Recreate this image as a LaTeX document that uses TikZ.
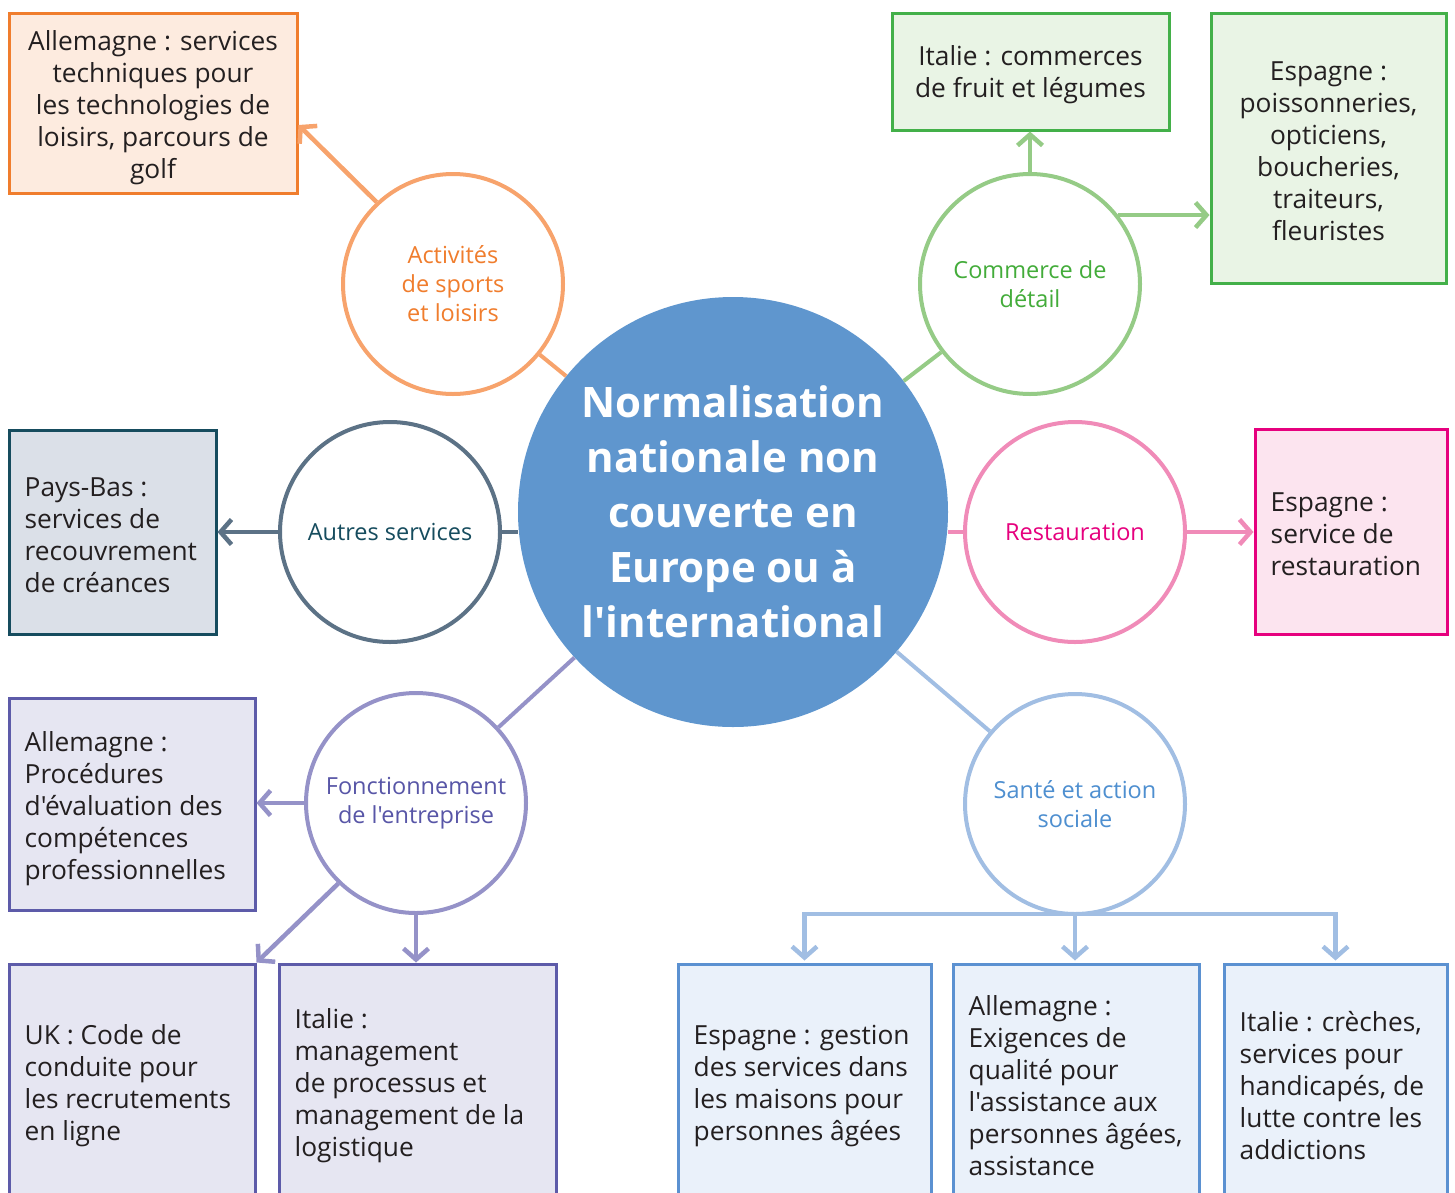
\documentclass[tikz,border=0pt]{standalone}
\usepackage{fontspec}
\setmainfont{Open Sans}[Ligatures=TeXOff]
\usetikzlibrary{arrows.meta}

\definecolor{ink}{HTML}{231F20}
\definecolor{hub}{HTML}{5F96CE}
% orange family
\definecolor{oraC}{HTML}{F7A36C}
\definecolor{oraT}{HTML}{F07D2D}
\definecolor{oraF}{HTML}{FDEBDF}
% green family
\definecolor{grnC}{HTML}{95CB86}
\definecolor{grnT}{HTML}{43AC3A}
\definecolor{grnB}{HTML}{43B049}
\definecolor{grnF}{HTML}{E9F4E5}
% pink family
\definecolor{pnkC}{HTML}{F08BB8}
\definecolor{pnkT}{HTML}{E6007E}
\definecolor{pnkF}{HTML}{FCE4EF}
% slate family
\definecolor{sltC}{HTML}{5C7286}
\definecolor{sltT}{HTML}{164C5E}
\definecolor{sltF}{HTML}{DBE0E8}
% purple family
\definecolor{prpC}{HTML}{9592C8}
\definecolor{prpT}{HTML}{5856A7}
\definecolor{prpB}{HTML}{5D5BA9}
\definecolor{prpF}{HTML}{E6E6F2}
% blue family
\definecolor{bluC}{HTML}{A1BEE3}
\definecolor{bluT}{HTML}{4E8FD0}
\definecolor{bluB}{HTML}{5B91D1}
\definecolor{bluF}{HTML}{EAF1FA}

\tikzset{
  hubnode/.style={circle, fill=hub, minimum size=430pt, inner sep=0pt, text=white,
    align=center, font=\fontsize{42}{55}\selectfont\bfseries},
  theme/.style={circle, draw, fill=white, line width=4pt, minimum size=220pt, inner sep=0pt,
    align=center, font=\fontsize{23.5}{29}\selectfont},
  panel/.style={rectangle, draw, line width=3pt, inner sep=0pt},
  panetext/.style={text=ink, inner sep=0pt, yshift=-3pt, font=\fontsize{26.3}{32}\selectfont},
  link/.style={line width=4pt},
  feed/.style={line width=4.5pt, -{Straight Barb[length=11pt,width=25pt]}},
}

\begin{document}
\begin{tikzpicture}[x=1pt,y=-1pt]
\useasboundingbox (0,0) rectangle (1455,1192);
\clip (0,0) rectangle (1455,1192);

% ---------- panels ----------
\node[panel, draw=oraT, fill=oraF, minimum width=288pt, minimum height=180pt] (pSport) at (153,103) {};
\node[panetext, align=center] (tSport) at ([yshift=-2pt]pSport.center) {Allemagne : services\\techniques pour\\les technologies de\\loisirs, parcours de\\golf};

\node[panel, draw=grnB, fill=grnF, minimum width=277pt, minimum height=117pt] (pFruit) at (1030.5,71.5) {};
\node[panetext, align=center] (tFruit) at (pFruit.center) {Italie : commerces\\de fruit et légumes};

\node[panel, draw=grnB, fill=grnF, minimum width=235pt, minimum height=270pt] (pPoisson) at (1328.5,148) {};
\node[panetext, align=center] (tPoisson) at (pPoisson.center) {Espagne :\\poissonneries,\\opticiens,\\boucheries,\\traiteurs,\\fleuristes};

\node[panel, draw=pnkT, fill=pnkF, minimum width=192pt, minimum height=205pt] (pResto) at (1351,531.5) {};
\node[panetext, align=left, anchor=west] (tResto) at ([xshift=17pt]pResto.west) {Espagne :\\service de\\restauration};

\node[panel, draw=sltT, fill=sltF, minimum width=207pt, minimum height=204pt] (pCreance) at (112.5,532) {};
\node[panetext, align=left, anchor=west] (tCreance) at ([xshift=17pt]pCreance.west) {Pays-Bas :\\services de\\recouvrement\\de créances};

\node[panel, draw=prpB, fill=prpF, minimum width=246pt, minimum height=212pt] (pCompet) at (132,804) {};
\node[panetext, align=left, anchor=west] (tCompet) at ([xshift=17pt,yshift=-2pt]pCompet.west) {Allemagne :\\Procédures\\d'évaluation des\\compétences\\professionnelles};

\node[panel, draw=prpB, fill=prpF, minimum width=246pt, minimum height=238pt] (pRecrut) at (132,1083) {};
\node[panetext, align=left, anchor=west] (tRecrut) at ([xshift=17pt]pRecrut.west) {UK : Code de\\conduite pour\\les recrutements\\en ligne};

\node[panel, draw=prpB, fill=prpF, minimum width=277pt, minimum height=238pt] (pLogist) at (417.5,1083) {};
\node[panetext, align=left, anchor=west] (tLogist) at ([xshift=17pt]pLogist.west) {Italie :\\management\\de processus et\\management de la\\logistique};

\node[panel, draw=bluB, fill=bluF, minimum width=253pt, minimum height=238pt] (pMaison) at (804.5,1083) {};
\node[panetext, align=left, anchor=west] (tMaison) at ([xshift=17pt]pMaison.west) {Espagne : gestion\\des services dans\\les maisons pour\\personnes âgées};

\node[panel, draw=bluB, fill=bluF, minimum width=246pt, minimum height=238pt] (pQualite) at (1076,1083) {};
\node[panetext, align=left, anchor=west] (tQualite) at ([xshift=17pt]pQualite.west) {Allemagne :\\Exigences de\\qualité pour\\l'assistance aux\\personnes âgées,\\assistance};

\node[panel, draw=bluB, fill=bluF, minimum width=223pt, minimum height=238pt] (pCreche) at (1335.5,1083) {};
\node[panetext, align=left, anchor=west] (tCreche) at ([xshift=17pt]pCreche.west) {Italie : crèches,\\services pour\\handicapés, de\\lutte contre les\\addictions};

% ---------- hub and themes ----------
\node[hubnode] (hub) at (733,512) {Normalisation\\nationale non\\couverte en\\Europe ou à\\l'international};

\node[theme, draw=oraC, text=oraT] (sport) at (453,284) {Activités\\de sports\\et loisirs};
\node[theme, draw=grnC, text=grnT] (detail) at (1030,284) {Commerce de\\détail};
\node[theme, draw=pnkC, text=pnkT] (resto) at (1075,532) {Restauration};
\node[theme, draw=sltC, text=sltT] (autres) at (390,532) {Autres services};
\node[theme, draw=prpC, text=prpT] (entre) at (416,803) {Fonctionnement\\de l'entreprise};
\node[theme, draw=bluC, text=bluT] (sante) at (1075,804) {Santé et action\\sociale};

% ---------- hub to themes ----------
\draw[link, oraC] (hub) -- (sport);
\draw[link, grnC] (hub) -- (detail);
\draw[link, pnkC] (resto.west) -- (resto.west -| hub.east);
\draw[link, sltC] (autres.east) -- (autres.east -| hub.west);
\draw[link, prpC] (hub) -- (entre);
\draw[link, bluC] (hub) -- (sante);

% ---------- themes to panels ----------
\draw[feed, oraC] (sport.133) -- ([yshift=-22pt]pSport.east);
\draw[feed, grnC] (detail.north) -- (detail.north |- pFruit.south);
\draw[feed, grnC] (detail.38) -- (detail.38 -| pPoisson.west);
\draw[feed, pnkC] (resto.east) -- (resto.east -| pResto.west);
\draw[feed, sltC] (autres.west) -- (autres.west -| pCreance.east);
\draw[feed, prpC] (entre.west) -- (entre.west -| pCompet.east);
\draw[feed, prpC] (entre.226) -- (pRecrut.north east);
\draw[feed, prpC] (entre.south) -- (entre.south |- pLogist.north);
\coordinate (bus) at ([yshift=2pt]sante.south);
\draw[feed, bluC] (bus) -| ([yshift=2pt]pMaison.north);
\draw[feed, bluC] (bus) -- ([yshift=2pt]bus |- pQualite.north);
\draw[feed, bluC] (bus) -| ([yshift=2pt]pCreche.north);
\end{tikzpicture}
\end{document}
